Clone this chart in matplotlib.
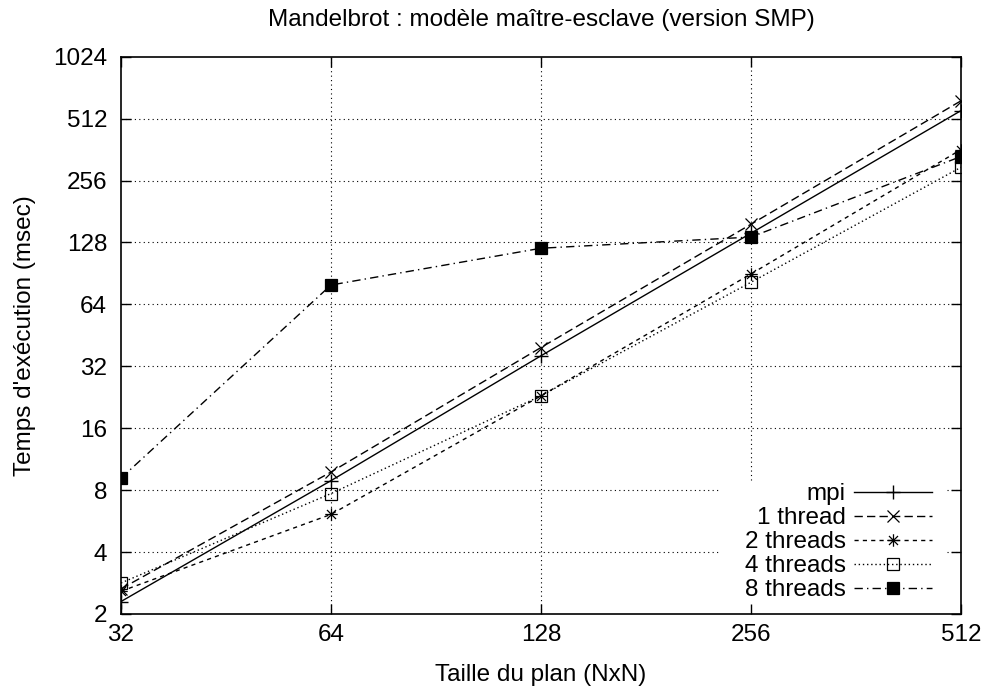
import matplotlib
matplotlib.use("Agg")
import matplotlib.pyplot as plt
from matplotlib.path import Path
from matplotlib.ticker import FixedLocator, FixedFormatter, NullLocator

plt.rcParams['font.family'] = ['Liberation Sans', 'DejaVu Sans']

# Problem sizes (N for an NxN plane) and execution times in msec
sizes = [32, 64, 128, 256, 512]
t_mpi = [2.3, 8.9, 36.0, 142.0, 560.0]
t_1thread = [2.65, 9.8, 39.5, 157.0, 625.0]
t_2threads = [2.58, 6.1, 23.0, 90.0, 362.0]
t_4threads = [2.83, 7.7, 23.0, 82.0, 297.0]
t_8threads = [9.15, 79.5, 120.0, 136.0, 335.0]

x_ticks = [32, 64, 128, 256, 512]
y_ticks = [2, 4, 8, 16, 32, 64, 128, 256, 512, 1024]

FS = 17.5

# gnuplot-style star: a "+" overlaid with an "x"
star = Path(
    [(-1, 0), (1, 0), (0, -1), (0, 1),
     (-0.72, -0.72), (0.72, 0.72), (-0.72, 0.72), (0.72, -0.72)],
    [Path.MOVETO, Path.LINETO, Path.MOVETO, Path.LINETO,
     Path.MOVETO, Path.LINETO, Path.MOVETO, Path.LINETO],
)

fig = plt.figure(figsize=(9.85, 6.89), dpi=100)
ax = fig.add_axes([121 / 985, 1 - 614 / 689, 840 / 985, (614 - 56.7) / 689])

lw = 1.0
ax.plot(sizes, t_mpi, color='black', lw=lw, ls='-', marker='+', ms=10,
        mew=1.0, label='mpi')
ax.plot(sizes, t_1thread, color='black', lw=lw, ls=(0, (6, 3)), marker='x',
        ms=9, mew=0.9, label='1 thread')
ax.plot(sizes, t_2threads, color='black', lw=lw, ls=(0, (3, 3)), marker=star,
        ms=9, mew=0.9, mfc='none', label='2 threads')
ax.plot(sizes, t_4threads, color='black', lw=lw, ls=(0, (1, 2)), marker='s',
        ms=8, mew=0.9, mfc='none', label='4 threads')
ax.plot(sizes, t_8threads, color='black', lw=lw, ls=(0, (6, 3, 1, 3)), marker='s',
        ms=8.5, mew=0.9, mfc='black', label='8 threads')

ax.set_xscale('log', base=2)
ax.set_yscale('log', base=2)
ax.set_xlim(32, 512)
ax.set_ylim(2, 1024)

ax.xaxis.set_major_locator(FixedLocator(x_ticks))
ax.xaxis.set_major_formatter(FixedFormatter([str(v) for v in x_ticks]))
ax.xaxis.set_minor_locator(NullLocator())
ax.yaxis.set_major_locator(FixedLocator(y_ticks))
ax.yaxis.set_major_formatter(FixedFormatter([str(v) for v in y_ticks]))
ax.yaxis.set_minor_locator(NullLocator())

ax.tick_params(axis='both', which='major', direction='in', length=7, width=1.0,
               top=True, right=True, labelsize=FS)
ax.tick_params(axis='x', pad=7)
ax.tick_params(axis='y', pad=10)

for s in ax.spines.values():
    s.set_linewidth(1.2)

# Key area (axes fraction); grid lines are broken around it
key_x0, key_x1, key_y1 = 0.711, 0.983, 0.2405

grid_kw = dict(color='black', lw=0.8, ls=(0, (1, 3)), zorder=0.8)
xt = ax.get_xaxis_transform()   # x in data, y in axes fraction
yt = ax.get_yaxis_transform()   # x in axes fraction, y in data
for v in x_ticks[1:-1]:
    xf = (ax.transAxes.inverted().transform(ax.transData.transform((v, 2)))[0])
    top_stop = key_y1 if key_x0 <= xf <= key_x1 else 0.0
    ax.plot([v, v], [top_stop, 1], transform=xt, **grid_kw)
for v in y_ticks[1:-1]:
    yf = (ax.transAxes.inverted().transform(ax.transData.transform((32, v)))[1])
    if yf <= key_y1:
        ax.plot([0, key_x0], [v, v], transform=yt, **grid_kw)
        ax.plot([key_x1, 1], [v, v], transform=yt, **grid_kw)
    else:
        ax.plot([0, 1], [v, v], transform=yt, **grid_kw)

fig.text(541 / 985, 1 - 20 / 689,
         'Mandelbrot : modèle maître-esclave (version SMP)', fontsize=FS,
         ha='center', va='center')
ax.set_xlabel('Taille du plan (NxN)', fontsize=FS, labelpad=13)
ax.set_ylabel("Temps d'exécution (msec)", fontsize=FS, labelpad=12)

leg = ax.legend(loc='lower right', bbox_to_anchor=(0.9655, 0.023),
                markerfirst=False, fontsize=FS, handlelength=3.2,
                handletextpad=0.35, labelspacing=0.08, borderpad=0,
                borderaxespad=0, frameon=False)

fig.savefig('out.png', dpi=100)
